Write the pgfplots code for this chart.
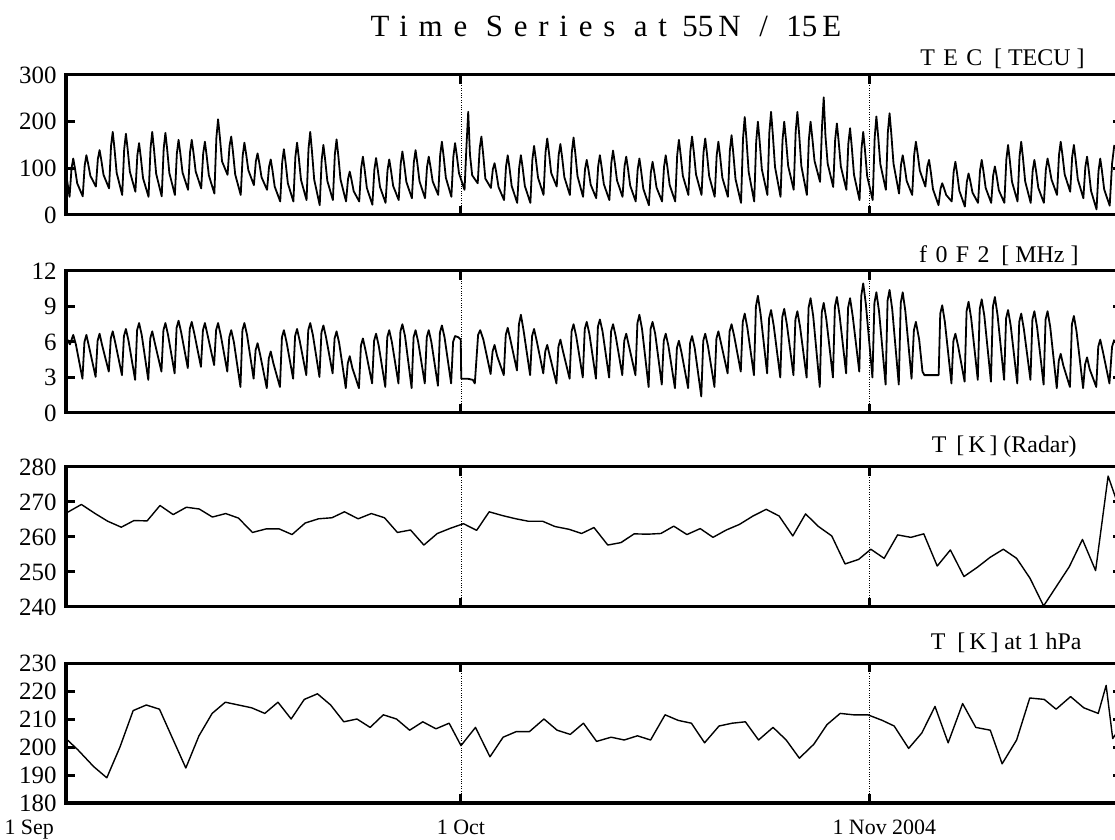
\documentclass[border=0pt]{standalone}
\usepackage{fontspec}
\setmainfont{Liberation Serif}
\newfontfamily\spc[LetterSpace=35]{Liberation Serif}
\usepackage{pgfplots}
\pgfplotsset{compat=1.18}

\pgfplotsset{panel/.style={
  scale only axis, width=1056bp, height=140bp, anchor=south west,
  xmin=0, xmax=80.2,
  axis line style={line width=3bp},
  axis on top,
  xtick={30,61}, xticklabels={,,},
  xmajorgrids, grid style={dotted, line width=0.9bp, black},
  tick align=inside, major tick length=9bp,
  every tick/.style={line width=3bp, black},
  yticklabel style={font=\fontsize{25}{25}\selectfont, xshift=-6bp},
  /pgf/number format/assume math mode=true,
}}

\begin{document}
\begin{tikzpicture}
\useasboundingbox (0,0) rectangle (1115bp,840bp);

\node[anchor=base, font=\fontsize{31}{31}\selectfont] at (606bp,803bp)
  {{\spc Time Series at}\ \ 55\,{\spc N / }15\,E};

% TEC
\begin{axis}[panel, at={(66bp,625bp)}, ymin=0, ymax=300, ytick={0,100,200,300}]
\addplot[black, line width=1.8bp, line join=round] coordinates {
(0.00,90)(0.27,39)(0.42,100)(0.55,121)(0.68,100)(0.85,68)
(1.27,40)(1.42,106)(1.55,128)(1.68,110)(1.85,84)
(2.27,61)(2.42,120)(2.55,139)(2.68,118)(2.85,86)
(3.27,57)(3.42,148)(3.55,178)(3.68,143)(3.85,90)
(4.27,43)(4.42,141)(4.55,174)(4.68,142)(4.85,93)
(5.27,50)(5.42,128)(5.55,154)(5.68,124)(5.85,79)
(6.27,39)(6.42,143)(6.55,178)(6.68,142)(6.85,88)
(7.27,40)(7.42,142)(7.55,176)(7.68,142)(7.85,90)
(8.27,43)(8.42,132)(8.55,161)(8.68,133)(8.85,91)
(9.27,54)(9.42,134)(9.55,161)(9.68,134)(9.85,93)
(10.27,57)(10.42,132)(10.55,157)(10.68,128)(10.85,85)
(11.27,46)(11.42,165)(11.55,205)(11.68,169)(11.85,115)
(12.27,86)(12.42,148)(12.55,168)(12.68,136)(12.85,87)
(13.27,43)(13.42,127)(13.55,155)(13.68,131)(13.85,96)
(14.27,64)(14.42,115)(14.55,132)(14.68,112)(14.85,81)
(15.27,54)(15.42,103)(15.55,119)(15.68,96)(15.85,61)
(16.27,29)(16.42,113)(16.55,141)(16.68,112)(16.85,68)
(17.27,29)(17.42,124)(17.55,155)(17.68,123)(17.85,75)
(18.27,32)(18.42,142)(18.55,178)(18.68,137)(18.85,76)
(19.27,21)(19.42,118)(19.55,150)(19.68,119)(19.85,73)
(20.27,32)(20.42,130)(20.55,162)(20.68,128)(20.85,76)
(21.27,29)(21.42,77)(21.55,93)(21.68,76)(21.85,51)
(22.27,29)(22.42,101)(22.55,125)(22.68,98)(22.85,58)
(23.27,22)(23.42,97)(23.55,122)(23.68,97)(23.85,60)
(24.27,26)(24.42,96)(24.55,119)(24.68,96)(24.85,62)
(25.27,32)(25.42,110)(25.55,136)(25.68,110)(25.85,71)
(26.27,36)(26.42,113)(26.55,139)(26.68,112)(26.85,72)
(27.27,36)(27.42,103)(27.55,125)(27.68,104)(27.85,72)
(28.27,43)(28.42,129)(28.55,157)(28.68,126)(28.85,80)
(29.27,39)(29.42,125)(29.55,154)(29.68,128)(29.85,89)
(30.27,54)(30.42,150)(30.55,221)(30.68,130)(30.85,85)
(31.27,68)(31.42,143)(31.55,168)(31.68,132)(31.85,78)
(32.27,58)(32.42,98)(32.55,111)(32.68,91)(32.85,60)
(33.27,32)(33.42,104)(33.55,128)(33.68,102)(33.85,62)
(34.27,26)(34.42,102)(34.55,128)(34.68,102)(34.85,62)
(35.27,26)(35.42,118)(35.55,148)(35.68,121)(35.85,80)
(36.27,43)(36.42,134)(36.55,164)(36.68,134)(36.85,90)
(37.27,61)(37.42,129)(37.55,152)(37.68,124)(37.85,81)
(38.27,43)(38.42,135)(38.55,166)(38.68,133)(38.85,83)
(39.27,39)(39.42,98)(39.55,118)(39.68,97)(39.85,65)
(40.27,36)(40.42,105)(40.55,128)(40.68,103)(40.85,66)
(41.27,32)(41.42,112)(41.55,138)(41.68,112)(41.85,74)
(42.27,39)(42.42,104)(42.55,125)(42.68,100)(42.85,63)
(43.27,29)(43.42,98)(43.55,121)(43.68,95)(43.85,56)
(44.27,21)(44.42,91)(44.55,114)(44.68,92)(44.85,59)
(45.27,29)(45.42,103)(45.55,128)(45.68,102)(45.85,64)
(46.27,29)(46.42,128)(46.55,161)(46.68,130)(46.85,84)
(47.27,43)(47.42,137)(47.55,168)(47.68,136)(47.85,87)
(48.27,43)(48.42,134)(48.55,164)(48.68,132)(48.85,83)
(49.27,39)(49.42,128)(49.55,157)(49.68,126)(49.85,80)
(50.27,39)(50.42,138)(50.55,171)(50.68,133)(50.85,77)
(51.27,26)(51.42,164)(51.55,210)(51.68,163)(51.85,92)
(52.27,29)(52.42,157)(52.55,200)(52.68,159)(52.85,98)
(53.27,43)(53.42,177)(53.55,221)(53.68,174)(53.85,103)
(54.27,39)(54.42,160)(54.55,200)(54.68,162)(54.85,105)
(55.27,54)(55.42,179)(55.55,221)(55.68,175)(55.85,105)
(56.27,43)(56.42,161)(56.55,200)(56.68,166)(56.85,116)
(57.27,71)(57.42,190)(57.55,252)(57.68,170)(57.85,110)
(58.27,60)(58.42,162)(58.55,196)(58.68,159)(58.85,104)
(59.27,54)(59.42,153)(59.55,186)(59.68,146)(59.85,86)
(60.27,32)(60.42,142)(60.55,178)(60.68,140)(60.85,83)
(61.27,32)(61.42,166)(61.55,211)(61.68,170)(61.85,109)
(62.27,54)(62.42,177)(62.55,218)(62.68,175)(62.85,110)
(63.27,46)(63.42,108)(63.55,128)(63.68,106)(63.85,73)
(64.27,43)(64.42,129)(64.55,157)(64.68,132)(64.85,95)
(65.27,61)(65.42,104)(65.55,118)(65.68,93)(65.85,55)
(66.27,21)(66.42,56)(66.55,68)(66.68,58)(66.85,43)
(67.27,29)(67.42,93)(67.55,114)(67.68,89)(67.85,52)
(68.27,18)(68.42,71)(68.55,89)(68.68,73)(68.85,48)
(69.27,26)(69.42,95)(69.55,118)(69.68,94)(69.85,58)
(70.27,26)(70.42,85)(70.55,104)(70.68,84)(70.85,53)
(71.27,26)(71.42,119)(71.55,150)(71.68,118)(71.85,71)
(72.27,29)(72.42,125)(72.55,157)(72.68,123)(72.85,72)
(73.27,26)(73.42,95)(73.55,118)(73.68,94)(73.85,58)
(74.27,26)(74.42,97)(74.55,121)(74.68,103)(74.85,76)
(75.27,43)(75.42,129)(75.55,157)(75.68,129)(75.85,87)
(76.27,50)(76.42,125)(76.55,150)(76.68,120)(76.85,76)
(77.27,36)(77.42,103)(77.55,125)(77.68,96)(77.85,52)
(78.27,12)(78.42,94)(78.55,121)(78.68,95)(78.85,55)
(79.27,20)(79.45,110)(79.62,150)
};
\end{axis}
\node[anchor=base east, font=\fontsize{24}{24}\selectfont] at (1088bp,774bp)
  {{\spc TEC}\ \ [\ TECU\ ]};

% foF2
\begin{axis}[panel, at={(66bp,427bp)}, height=142bp, ymin=0, ymax=12, ytick={0,3,...,12}]
\addplot[black, line width=1.8bp, line join=round] coordinates {
(0.01,0)(0.05,6.3)(0.30,5.8)(0.55,6.6)(0.75,5.8)
(1.25,2.9)(1.40,6.0)(1.55,6.6)(1.75,5.6)
(2.25,3.05)(2.40,6.1)(2.55,6.7)(2.75,5.7)
(3.25,3.5)(3.40,6.3)(3.55,6.9)(3.75,5.9)
(4.25,3.2)(4.40,6.5)(4.55,7.1)(4.75,6.1)
(5.25,2.8)(5.40,7.0)(5.55,7.6)(5.75,6.6)
(6.25,2.8)(6.40,6.3)(6.55,6.9)(6.75,5.9)
(7.25,3.5)(7.40,7.0)(7.55,7.6)(7.75,6.6)
(8.25,3.35)(8.40,7.2)(8.55,7.8)(8.75,6.8)
(9.25,3.8)(9.40,7.1)(9.55,7.7)(9.75,6.7)
(10.25,3.9)(10.40,7.0)(10.55,7.6)(10.75,6.6)
(11.25,4.05)(11.40,7.0)(11.55,7.6)(11.75,6.6)
(12.25,3.5)(12.40,6.4)(12.55,7.0)(12.75,6.0)
(13.25,2.2)(13.40,7.0)(13.55,7.6)(13.75,6.6)
(14.25,2.9)(14.40,5.3)(14.55,5.9)(14.75,4.9)
(15.25,2.1)(15.40,4.6)(15.55,5.2)(15.75,4.2)
(16.25,2.2)(16.40,6.4)(16.55,7.0)(16.75,6.0)
(17.25,2.9)(17.40,6.5)(17.55,7.1)(17.75,6.1)
(18.25,3.2)(18.40,7.0)(18.55,7.6)(18.75,6.6)
(19.25,3.05)(19.40,6.8)(19.55,7.4)(19.75,6.4)
(20.25,3.35)(20.40,6.3)(20.55,6.9)(20.75,5.9)
(21.25,2.1)(21.40,4.2)(21.55,4.8)(21.75,3.8)
(22.25,2.1)(22.40,5.7)(22.55,6.3)(22.75,5.3)
(23.25,2.5)(23.40,6.1)(23.55,6.7)(23.75,5.7)
(24.25,2.2)(24.40,6.4)(24.55,7.0)(24.75,6.0)
(25.25,2.5)(25.40,6.9)(25.55,7.5)(25.75,6.5)
(26.25,2.1)(26.40,6.4)(26.55,7.0)(26.75,6.0)
(27.25,2.5)(27.40,6.4)(27.55,7.0)(27.75,6.0)
(28.25,2.3)(28.40,6.8)(28.55,7.4)(28.75,6.4)
(29.25,2.5)(29.40,6.0)(29.55,6.5)(29.80,6.4)(29.98,6.2)
(30.02,2.9)(30.50,2.9)(30.90,2.8)
(31.05,2.5)(31.30,6.6)(31.46,7.0)(31.70,6.2)
(32.25,3.3)(32.40,5.2)(32.55,5.75)(32.75,4.8)
(33.25,3.2)(33.40,6.6)(33.55,7.2)(33.75,6.2)
(34.25,3.6)(34.40,7.5)(34.55,8.3)(34.75,7.0)
(35.25,3.2)(35.40,6.5)(35.55,7.1)(35.75,6.1)
(36.25,3.35)(36.40,5.2)(36.55,5.75)(36.75,4.8)
(37.25,2.5)(37.40,5.6)(37.55,6.2)(37.75,5.2)
(38.25,2.9)(38.40,6.9)(38.55,7.5)(38.75,6.5)
(39.25,3.0)(39.40,7.1)(39.55,7.7)(39.75,6.7)
(40.25,2.9)(40.40,7.3)(40.55,7.9)(40.75,6.9)
(41.25,3.0)(41.40,6.9)(41.55,7.5)(41.75,6.5)
(42.25,3.2)(42.40,6.1)(42.55,6.7)(42.75,5.7)
(43.25,3.2)(43.40,7.6)(43.55,8.3)(43.75,7.1)
(44.25,2.2)(44.40,7.1)(44.55,7.7)(44.75,6.7)
(45.25,2.4)(45.40,6.1)(45.55,6.7)(45.75,5.7)
(46.25,2.1)(46.40,5.5)(46.55,6.1)(46.75,5.1)
(47.25,2.1)(47.40,5.9)(47.55,6.5)(47.75,5.5)
(48.25,1.4)(48.40,6.1)(48.55,6.7)(48.75,5.7)
(49.25,2.2)(49.40,6.3)(49.55,6.9)(49.75,5.9)
(50.25,3.35)(50.40,6.9)(50.55,7.5)(50.75,6.5)
(51.25,3.5)(51.40,7.7)(51.55,8.4)(51.75,7.2)
(52.25,3.2)(52.40,9.0)(52.55,9.9)(52.75,8.4)
(53.25,3.35)(53.40,8.0)(53.55,8.7)(53.75,7.4)
(54.25,3.0)(54.40,8.1)(54.55,8.8)(54.75,7.5)
(55.25,3.2)(55.40,7.9)(55.55,8.6)(55.75,7.3)
(56.25,3.0)(56.40,8.9)(56.55,9.7)(56.75,8.2)
(57.25,2.2)(57.40,8.5)(57.55,9.3)(57.75,7.9)
(58.25,3.0)(58.40,9.0)(58.55,9.8)(58.75,8.3)
(59.25,3.35)(59.40,8.9)(59.55,9.7)(59.75,8.2)
(60.25,3.5)(60.40,9.9)(60.55,10.95)(60.75,9.2)
(61.25,3.0)(61.40,9.3)(61.55,10.2)(61.75,8.6)
(62.25,2.4)(62.40,9.5)(62.55,10.4)(62.75,8.8)
(63.25,2.4)(63.40,9.3)(63.55,10.2)(63.75,8.6)
(64.22,2.9)(64.40,7.0)(64.55,7.7)(64.80,6.2)(65.05,3.5)
(65.20,3.2)(66.28,3.2)
(66.40,8.4)(66.55,9.1)(66.75,7.7)
(67.25,2.5)(67.40,6.1)(67.55,6.7)(67.75,5.7)
(68.25,2.65)(68.40,8.6)(68.55,9.4)(68.75,8.0)
(69.25,2.8)(69.40,8.8)(69.55,9.6)(69.75,8.2)
(70.25,2.65)(70.40,9.0)(70.55,9.8)(70.75,8.3)
(71.25,2.8)(71.40,8.0)(71.55,8.7)(71.75,7.4)
(72.25,2.5)(72.40,7.7)(72.55,8.4)(72.75,7.1)
(73.25,2.8)(73.40,7.9)(73.55,8.6)(73.75,7.3)
(74.25,2.4)(74.40,7.9)(74.55,8.6)(74.75,7.3)
(75.25,2.1)(75.40,4.4)(75.55,5.0)(75.75,4.0)
(76.25,2.2)(76.40,7.5)(76.55,8.2)(76.75,6.9)
(77.25,2.1)(77.40,4.1)(77.55,4.7)(77.75,3.7)
(78.25,2.2)(78.40,5.6)(78.55,6.2)(78.75,5.2)
(79.25,2.5)(79.45,5.6)(79.62,6.2)
};
\end{axis}
\node[anchor=base east, font=\fontsize{24}{24}\selectfont] at (1082bp,577bp)
  {{\spc f0F2}\ \ [\ MHz\ ]};

% T radar
\begin{axis}[panel, at={(66bp,233bp)}, ymin=240, ymax=280, ytick={240,250,...,280}]
\addplot[black, line width=1.4bp, line join=round] coordinates {
(0.0,266.8)(1.17,269.3)(2.17,266.8)(3.17,264.5)(4.2,262.8)(5.16,264.7)
(6.16,264.6)(7.14,269.0)(8.14,266.4)(9.14,268.5)(10.12,268.0)(11.12,265.7)
(12.13,266.7)(13.1,265.4)(14.16,261.3)(15.19,262.3)(16.2,262.3)(17.17,260.7)
(18.17,264.0)(19.18,265.2)(20.2,265.5)(21.15,267.2)(22.19,265.2)(23.19,266.7)
(24.19,265.5)(25.17,261.3)(26.17,262.0)(27.18,257.7)(28.2,261.0)(29.2,262.5)
(30.19,263.8)(31.19,261.9)(32.14,267.2)(33.17,266.1)(34.17,265.2)(35.12,264.5)
(36.2,264.5)(37.13,263.0)(38.2,262.2)(39.16,261.0)(40.1,262.7)(41.15,257.7)
(42.15,258.4)(43.15,260.9)(44.18,260.8)(45.18,261.0)(46.16,263.1)(47.16,260.7)
(48.17,262.4)(49.14,259.9)(50.15,262.0)(51.15,263.6)(52.18,266.0)(53.18,267.9)
(54.16,266.0)(55.2,260.3)(56.17,266.6)(57.15,263.0)(58.16,260.3)(59.17,252.3)
(60.2,253.6)(61.13,256.5)(62.14,253.9)(63.16,260.6)(64.17,259.9)(65.15,260.9)
(66.17,251.7)(67.17,256.3)(68.2,248.7)(69.2,251.3)(70.19,254.2)(71.19,256.5)
(72.2,253.9)(73.22,248.2)(74.25,240.3)(76.2,251.5)(77.2,259.3)(78.2,250.4)
(79.15,277.4)(80.2,266)
};
\end{axis}
\node[anchor=base east, font=\fontsize{24}{24}\selectfont] at (1080bp,387bp)
  {T\,~[\,K\,]~(Radar)};

% T at 1 hPa
\begin{axis}[panel, at={(66bp,37bp)}, ymin=180, ymax=230, ytick={180,190,...,230}]
\addplot[black, line width=1.4bp, line join=round] coordinates {
(0.0,203)(0.9,199)(2.1,193)(3.1,189)(4.1,200)(5.1,213)(6.1,215)(7.1,213.5)
(9.1,192.5)(10.1,204)(11.1,212)(12.1,216)(13.1,215)(14.1,214)(15.1,212)
(16.1,216)(17.1,210)(18.1,217)(19.1,219)(20.1,215)(21.1,209)(22.1,210)
(23.1,207)(24.1,211.5)(25.1,210)(26.1,206)(27.1,209)(28.1,206.5)(29.1,208.5)
(30.0,200.5)(31.1,207)(32.2,196.5)(33.2,203.5)(34.2,205.5)(35.2,205.5)
(36.3,210)(37.3,206)(38.3,204.5)(39.3,208.5)(40.3,202)(41.4,203.5)(42.4,202.5)
(43.4,204)(44.4,202.5)(45.5,211.5)(46.5,209.5)(47.5,208.5)(48.5,201.5)
(49.6,207.5)(50.6,208.5)(51.6,209)(52.6,202.5)(53.7,207)(54.7,202.5)(55.7,196)
(56.8,201)(57.8,208)(58.8,212)(59.8,211.5)(60.9,211.5)(62.0,209.5)(62.9,207.5)
(64.0,199.5)(65.0,205)(66.0,214.5)(67.0,201.5)(68.1,215.5)(69.1,207)(70.2,206)
(71.1,194)(72.2,202.5)(73.2,217.5)(74.3,217)(75.2,213.5)(76.3,218)(77.3,214)
(78.4,212)(79.0,222)(79.5,203)(80.2,208)
};
\end{axis}
\node[anchor=base east, font=\fontsize{24}{24}\selectfont] at (1085bp,190bp)
  {T~~[\,K\,]~at 1 hPa};

% date labels
\node[anchor=base west, font=\fontsize{22}{22}\selectfont] at (1bp,6bp) {1 Sep};
\node[anchor=base, font=\fontsize{22}{22}\selectfont] at (461bp,6bp) {1 Oct};
\node[anchor=base west, font=\fontsize{22}{22}\selectfont] at (829bp,6bp) {1 Nov 2004};
\end{tikzpicture}
\end{document}
